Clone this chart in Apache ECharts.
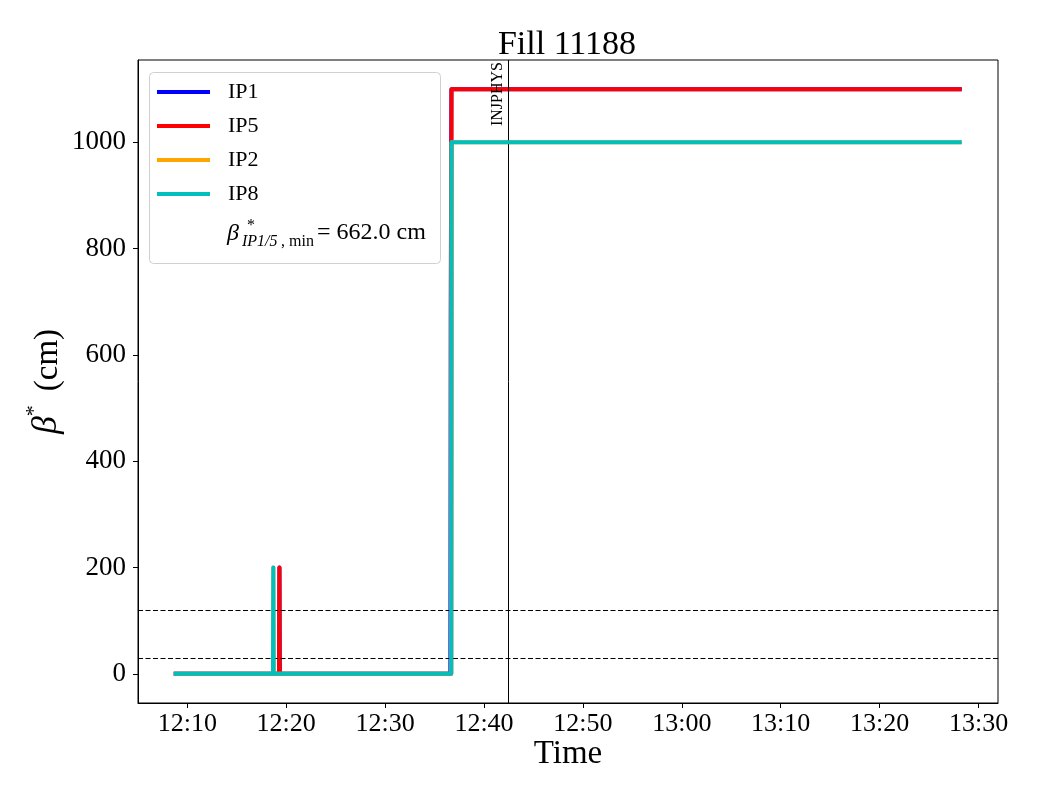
<!DOCTYPE html>
<html><head><meta charset="utf-8">
<script src="https://cdn.jsdelivr.net/npm/echarts@6/dist/echarts.min.js"></script>
<style>html,body{margin:0;padding:0;background:#fff}#c{width:1040px;height:800px}</style>
</head><body><div id="c"></div>
<script>
// ---- data (time of day, beta* in cm) ----
const ip1Times  = ['12:08:38','12:19:17','12:19:19','12:19:21','12:36:36','12:36:38','12:36:42','13:28:18'];
const ip1Values = [0, 0, 200, 0, 0, 662, 1100, 1100];
const ip5Times  = ['12:08:38','12:19:17','12:19:19','12:19:21','12:36:41','12:36:43','13:28:18'];
const ip5Values = [0, 0, 200, 0, 0, 1100, 1100];
const ip2Times  = ['12:08:38','12:18:40','12:18:42','12:18:44','12:36:41','12:36:43','13:28:18'];
const ip2Values = [0, 0, 200, 0, 0, 1000, 1000];
const ip8Times  = ['12:08:38','12:18:40','12:18:42','12:18:44','12:36:41','12:36:43','13:28:18'];
const ip8Values = [0, 0, 200, 0, 0, 1000, 1000];
const seriesNames = ['IP1','IP5','IP2','IP8'];
const seriesColors = ['#0000ff','#ff0000','#ffa500','#00bfbf'];
const hLines = [30, 120];
const vLineTime = '12:42:26';
const vLineLabel = 'INJPHYS';
const xTickLabels = ['12:10','12:20','12:30','12:40','12:50','13:00','13:10','13:20','13:30'];
const yTicks = [0, 200, 400, 600, 800, 1000];
const xRange = ['12:05:01','13:31:58'];
const yRange = [-55, 1155];
const titleText = 'Fill 11188';
const betaMin = 662.0;

function toSec(s){const p=s.split(':').map(Number);return p[0]*3600+p[1]*60+(p[2]||0);}
function fmt(v){const h=Math.floor(v/3600), m=Math.round((v-h*3600)/60);return h+':'+String(m).padStart(2,'0');}
function pts(t,v){return t.map((x,i)=>[toSec(x),v[i]]);}

const serif = "'Liberation Serif','DejaVu Serif',serif";
const allData = [pts(ip1Times,ip1Values),pts(ip5Times,ip5Values),pts(ip2Times,ip2Values),pts(ip8Times,ip8Values)];
const xTicks = xTickLabels.map(toSec);

const chart = echarts.init(document.getElementById('c'), null, {renderer:'canvas'});
const series = allData.map((d,i)=>({
  name: seriesNames[i], type:'line', data:d, showSymbol:false, symbol:'none',
  color: seriesColors[i], lineStyle:{width:4, color:seriesColors[i], cap:'butt', join:'round'},
  animation:false, z:2+i
}));
series.push({
  name:'refs', type:'line', data:[], z:10, animation:false,
  markLine:{
    silent:true, symbol:['none','none'], animation:false,
    data:[
      ...hLines.map(v=>({yAxis:v, lineStyle:{type:[5,2.5], width:1, color:'#000'}, label:{show:false}})),
      {xAxis: toSec(vLineTime), lineStyle:{type:'solid', width:1, color:'#000'},
       label:{show:true, formatter:vLineLabel, position:'insideEndTop', fontSize:16, fontFamily:serif, color:'#000', distance:[2,2]}}
    ]
  }
});

chart.setOption({
  animation:false,
  backgroundColor:'#fff',
  title:{text:titleText, left:562, top:23, textAlign:'center',
    textStyle:{fontFamily:serif, fontSize:34, fontWeight:'normal', color:'#000'}},
  grid:{left:138, top:60, width:860, height:643, show:true, borderColor:'#000', borderWidth:1, backgroundColor:'transparent'},
  legend:{
    data:seriesNames, orient:'vertical', left:152, top:75, icon:'rect', itemWidth:53, itemHeight:4, itemGap:10,
    textStyle:{fontFamily:serif, fontSize:22, color:'#000', lineHeight:24, padding:[0,0,0,13]}, selectedMode:false
  },
  graphic:[
    {type:'rect', left:149, top:72, shape:{width:291, height:191, r:4}, style:{fill:'rgba(255,255,255,0.8)', stroke:'#d0d0d0', lineWidth:1}, z:0},
    {type:'text', left:227, top:222, style:{text:'β', font:'italic 24px '+serif, fill:'#000'}, z:5},
    {type:'text', left:247, top:218, style:{text:'*', font:'16px '+serif, fill:'#000'}, z:5},
    {type:'text', left:242, top:234, style:{text:'IP1/5', font:'italic 16px '+serif, fill:'#000'}, z:5},
    {type:'text', left:281, top:234, style:{text:', min', font:'16px '+serif, fill:'#000'}, z:5},
    {type:'text', left:317, top:221, style:{text:'= '+betaMin.toFixed(1)+' cm', font:'24px '+serif, fill:'#000'}, z:5}
  ],
  xAxis:{
    type:'value', min:toSec(xRange[0]), max:toSec(xRange[1]),
    name:'Time', nameLocation:'middle', nameGap:35, nameMoveOverlap:false,
    nameTextStyle:{fontFamily:serif, fontSize:33, color:'#000'},
    axisLine:{show:true, onZero:false, lineStyle:{color:'#000', width:1}},
    axisTick:{show:true, length:5, customValues:xTicks, lineStyle:{color:'#000'}},
    axisLabel:{customValues:xTicks, formatter:fmt, fontFamily:serif, fontSize:26, color:'#000', margin:8},
    splitLine:{show:false}
  },
  yAxis:{
    type:'value', min:yRange[0], max:yRange[1],
    name:'{b|β}{s|*}{t|(cm)}', nameLocation:'middle', nameGap:73, nameRotate:90, nameMoveOverlap:false,
    nameTextStyle:{fontFamily:serif, fontSize:33, color:'#000',
      rich:{
        b:{fontFamily:serif, fontSize:36, fontStyle:'italic', color:'#000', lineHeight:42, verticalAlign:'bottom'},
        s:{fontFamily:serif, fontSize:22, color:'#000', verticalAlign:'top'},
        t:{fontFamily:serif, fontSize:33, color:'#000', lineHeight:42, verticalAlign:'bottom', padding:[0,0,0,14]}
      }},
    axisLine:{show:true, onZero:false, lineStyle:{color:'#000', width:1}},
    axisTick:{show:true, length:5, customValues:yTicks, lineStyle:{color:'#000'}},
    axisLabel:{customValues:yTicks, formatter:v=>String(v), fontFamily:serif, fontSize:27, color:'#000', margin:12},
    splitLine:{show:false}
  },
  series: series
});
</script></body></html>
